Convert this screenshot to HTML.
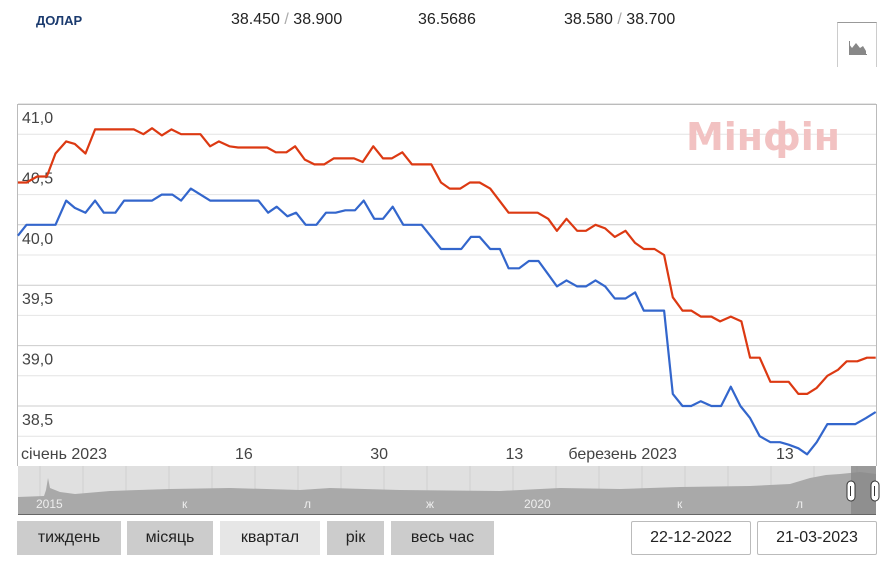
<!DOCTYPE html>
<html><head><meta charset="utf-8">
<style>
body{margin:0;width:896px;height:570px;background:#fff;font-family:"Liberation Sans","DejaVu Sans",sans-serif;position:relative;overflow:hidden}
.abs{position:absolute}
.hdr{top:11px;font-size:16px;color:#222}
.btn{position:absolute;top:521px;height:34px;line-height:34px;background:#ccc;color:#222;font-size:16px;text-align:center}
.date{position:absolute;top:521px;height:32px;line-height:32px;border:1px solid #bbb;border-radius:2px;font-size:16px;text-align:center;color:#222;background:#fff}
</style></head>
<body>
<div class="abs" style="left:36px;top:13px;font-size:13px;font-weight:bold;color:#1a3a6e">ДОЛАР</div>
<div class="abs hdr" style="left:231px">38.450 <span style="color:#aaa">/</span> 38.900</div>
<div class="abs hdr" style="left:418px">36.5686</div>
<div class="abs hdr" style="left:564px">38.580 <span style="color:#aaa">/</span> 38.700</div>
<div class="abs" style="left:837px;top:22px;width:38px;height:44px;border-left:1px solid #ccc;border-right:1px solid #ccc;border-top:1px solid #999">
<svg width="38" height="44"><path d="M11 31 L11 21 L14 25 L18 20 L22 25 L25 23 L28 28 L28 31 Z" fill="#888"/><line x1="11" y1="31.5" x2="29" y2="31.5" stroke="#888"/><line x1="11.5" y1="18" x2="11.5" y2="32" stroke="#888"/></svg></div>
<svg class="abs" style="left:0;top:0" width="896" height="570" id="chart"></svg>
<div class="btn" style="left:17px;width:104px">тиждень</div>
<div class="btn" style="left:127px;width:86px">місяць</div>
<div class="btn" style="left:220px;width:100px;background:#e6e6e6">квартал</div>
<div class="btn" style="left:327px;width:57px">рік</div>
<div class="btn" style="left:391px;width:103px">весь час</div>
<div class="date" style="left:631px;width:118px">22-12-2022</div>
<div class="date" style="left:757px;width:118px">21-03-2023</div>
<script>
// days since 2023-01-01
const redDays=[-8.4,-7.5,-6.4,-5.4,-4.5,-3.4,-2.5,-1.4,-0.4,3.6,4.6,5.5,6.5,7.5,8.5,10.5,11.5,12.4,13.5,14.4,17.4,18.3,19.4,20.3,21.3,22.3,23.3,24.3,26.4,27.3,28.4,29.4,30.3,31.4,32.4,34.4,35.4,36.3,37.4,38.4,39.4,40.5,42.4,45.4,46.5,47.4,48.4,49.5,50.4,51.4,52.4,53.4,54.5,55.5,56.4,57.5,58.5,59.4,60.4,61.3,62.3,63.4,64.3,65.4,66.5,67.4,68.4,69.5,71.4,72.4,73.3,74.3,75.4,76.5,77.4,78.5,79.5,80.4];
const redVals=[40.35,40.35,40.40,40.40,40.59,40.69,40.67,40.59,40.79,40.79,40.75,40.80,40.74,40.79,40.75,40.75,40.65,40.69,40.65,40.64,40.64,40.60,40.60,40.65,40.54,40.50,40.50,40.55,40.55,40.52,40.65,40.55,40.55,40.60,40.50,40.50,40.35,40.30,40.30,40.35,40.35,40.30,40.10,40.10,40.05,39.95,40.05,39.95,39.95,40.00,39.97,39.90,39.95,39.85,39.80,39.80,39.75,39.40,39.29,39.29,39.24,39.24,39.20,39.24,39.20,38.90,38.90,38.70,38.70,38.60,38.60,38.65,38.75,38.80,38.87,38.87,38.90,38.90];
const blueDays=[-8.4,-7.5,-4.5,-3.4,-2.5,-1.4,-0.4,0.5,1.7,2.6,5.5,6.5,7.6,8.5,9.5,11.5,16.5,17.5,18.4,19.5,20.4,21.4,22.5,23.5,24.5,25.5,26.5,27.4,28.5,29.4,30.4,31.5,33.4,35.4,37.5,38.5,39.4,40.5,41.5,42.4,43.5,44.5,45.5,46.5,47.4,48.4,49.5,50.4,51.4,52.4,53.4,54.5,55.5,56.4,58.5,59.4,60.4,61.3,62.3,63.4,64.4,65.4,66.4,67.4,68.4,69.5,70.5,71.4,72.4,73.3,74.3,75.4,78.3,79.4,80.4];
const blueVals=[39.91,40.00,40.00,40.20,40.14,40.10,40.20,40.10,40.10,40.20,40.20,40.25,40.25,40.20,40.30,40.20,40.20,40.10,40.15,40.07,40.10,40.00,40.00,40.10,40.10,40.12,40.12,40.20,40.05,40.05,40.15,40.00,40.00,39.80,39.80,39.90,39.90,39.80,39.80,39.64,39.64,39.70,39.70,39.59,39.49,39.54,39.49,39.49,39.54,39.49,39.39,39.39,39.44,39.29,39.29,38.60,38.50,38.50,38.54,38.50,38.50,38.66,38.50,38.40,38.25,38.20,38.20,38.18,38.15,38.10,38.20,38.35,38.35,38.40,38.45];
const yTicks=[41.0,40.5,40.0,39.5,39.0,38.5];
const yTickLabels=["41,0","40,5","40,0","39,5","39,0","38,5"];
const xTickDays=[0,15,29,43,59,71];
const xTickLabels=["січень 2023","16","30","13","березень 2023","13"];
const xTickAnchor=["end","middle","middle","middle","end","middle"];
const navLabels=["2015","к","л","ж","2020","к","л"];

const NS="http://www.w3.org/2000/svg";
const svg=document.getElementById('chart');
const X=d=>99+d*9.66;
const Y=v=>104+(41-v)*120.8;
function el(t,a,p){const e=document.createElementNS(NS,t);for(const k in a)e.setAttribute(k,a[k]);(p||svg).appendChild(e);return e;}

for(let v=41;v>=38.24;v-=0.25){
  const g=el('line',{x1:18,x2:876,y1:Y(v),y2:Y(v),stroke:Math.abs((v*2)%1)<0.01?'#ccc':'#e4e4e4','stroke-width':1});
  
  
}
const frame=el('path',{d:'M17.5 466 L17.5 104.5 L876.5 104.5 L876.5 466',fill:'none',stroke:'#bbb'});



const wm=el('text',{x:763,y:150,'text-anchor':'middle','font-size':38,'font-weight':'bold',fill:'#f2c2c2','font-family':'"DejaVu Sans","Liberation Sans",sans-serif'});
wm.textContent='Мінфін';



yTicks.forEach((v,i)=>{
  const t=el('text',{x:22,y:Y(v)+19,'font-size':16,fill:'#444'});
  t.textContent=yTickLabels[i];
  
  
});
xTickDays.forEach((d,i)=>{
  const t=el('text',{x:X(d)+(xTickAnchor[i]==='end'?8:0),y:459,'font-size':16,fill:'#444','text-anchor':xTickAnchor[i]});
  t.textContent=xTickLabels[i];
  
  
});
function line(days,vals,color,name){
  const d=days.map((x,i)=>(i?'L':'M')+X(x).toFixed(1)+' '+Y(vals[i]).toFixed(1)).join(' ');
  const p=el('path',{d:d,fill:'none',stroke:color,'stroke-width':2.2,'stroke-linejoin':'round'});
  
  
}
line(redDays,redVals,'#dc3912','sell-rate-line');
line(blueDays,blueVals,'#3366cc','buy-rate-line');

const nav=el('rect',{x:18,y:466,width:858,height:48,fill:'#e0e0e0'});


for(let i=0;i<20;i++){const g=el('line',{x1:40+i*43,x2:40+i*43,y1:466,y2:514,stroke:'#d0d0d0'});}
const area=el('path',{d:'M18 514 L18 497 L44 496 L46 490 L48 478 L50 488 L60 492 L75 494 L110 491 L170 489 L230 488 L300 490 L330 488 L400 490 L500 491 L560 488 L620 489 L680 487 L750 486 L790 484 L810 478 L826 475 L840 474 L860 472 L876 474 L876 514 Z',fill:'#a9a9a9'});


const sel=el('rect',{x:851,y:466,width:25,height:48,fill:'#888','fill-opacity':0.8});


const navX=[36,182,304,426,524,677,796];
navLabels.forEach((s,i)=>{const t=el('text',{x:navX[i],y:508,'font-size':12,fill:'#eee'});t.textContent=s;});
[851,875].forEach(x=>{const h=el('rect',{x:x-4,y:481,width:8,height:20,rx:4,fill:'#fff',stroke:'#333'});
const l=el('line',{x1:x-0.5,x2:x-0.5,y1:486,y2:496,stroke:'#333'});});
const base=el('line',{x1:18,x2:876,y1:514.5,y2:514.5,stroke:'#666'});


</script>
</body></html>
